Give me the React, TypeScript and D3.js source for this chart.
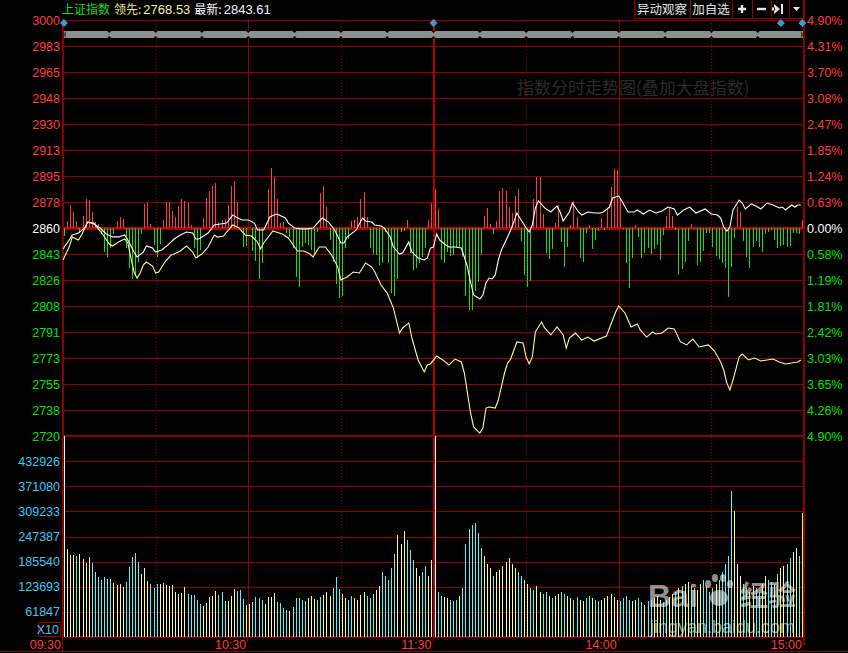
import React from "react";
import * as d3 from "d3";

// ---------------- data ----------------
const PREV_CLOSE = 2860;
const PRICE_STEP = 17.5;
const priceTicks = ["3000","2983","2965","2948","2930","2913","2895","2878","2860","2843","2826","2808","2791","2773","2755","2738","2720"];
const pctTicks = ["4.90%","4.31%","3.70%","3.08%","2.47%","1.85%","1.24%","0.63%","0.00%","0.58%","1.19%","1.81%","2.42%","3.03%","3.65%","4.26%","4.90%"];
const volTicks = ["432926","371080","309233","247387","185540","123693","61847"];
const VOL_STEP = 61.847; // thousands
const timeTickMinutes = [0, 60, 120, 180, 240];
const timeLabels = ["09:30", "10:30", "11:30", "14:00", "15:00"];

// white: index, [minute, price]
const indexLine: [number, number][] = [[0,2845.9],[2,2851.9],[3,2855.3],[5,2856.6],[7,2860.0],[8,2864.0],[10,2862.7],[12,2860.0],[14,2856.0],[16,2854.0],[18,2854.0],[20,2855.3],[21,2851.9],[23,2843.8],[24,2840.5],[26,2843.8],[27,2847.9],[29,2846.5],[30,2843.8],[32,2845.2],[34,2848.6],[36,2852.6],[38,2855.3],[40,2857.3],[42,2856.6],[43,2852.6],[44,2852.6],[47,2856.6],[49,2862.0],[51,2862.7],[53,2863.3],[55,2868.7],[56,2867.4],[58,2865.4],[60,2865.4],[62,2863.3],[63,2858.7],[65,2858.7],[67,2867.4],[69,2869.4],[70,2868.7],[72,2866.7],[73,2863.3],[75,2860.0],[77,2859.4],[79,2859.4],[81,2860.0],[83,2864.7],[84,2866.7],[86,2864.0],[88,2858.7],[90,2849.9],[91,2849.9],[92,2853.9],[95,2858.7],[97,2866.7],[98,2864.7],[100,2864.0],[101,2862.0],[103,2861.3],[104,2860.0],[106,2853.9],[107,2847.2],[109,2842.5],[110,2843.2],[112,2850.6],[113,2843.8],[115,2839.8],[117,2838.5],[118,2839.8],[119,2846.5],[120,2847.2],[121,2856.0],[122,2851.9],[124,2848.6],[125,2847.2],[127,2847.2],[129,2846.5],[130,2840.5],[131,2833.7],[132,2823.6],[133,2814.9],[135,2812.2],[136,2814.9],[137,2823.0],[138,2826.3],[139,2825.7],[140,2828.4],[141,2838.5],[142,2845.2],[144,2854.0],[145,2858.7],[146,2864.0],[147,2870.1],[148,2866.7],[150,2860.0],[151,2857.3],[152,2862.0],[153,2873.5],[154,2878.2],[156,2873.5],[158,2870.8],[160,2874.8],[161,2870.8],[162,2864.7],[164,2870.8],[165,2876.8],[167,2870.8],[168,2868.7],[170,2870.8],[172,2870.1],[174,2870.1],[175,2870.8],[177,2874.1],[178,2880.2],[180,2881.5],[181,2878.2],[183,2870.8],[185,2870.8],[186,2872.1],[188,2869.4],[190,2872.1],[192,2870.1],[194,2871.4],[196,2874.1],[198,2872.8],[199,2868.7],[201,2872.1],[203,2874.1],[205,2870.1],[208,2872.8],[210,2869.4],[212,2868.7],[213,2866.7],[214,2860.6],[215,2857.9],[216,2860.6],[217,2872.1],[219,2878.8],[220,2876.8],[221,2872.8],[223,2876.2],[225,2874.1],[226,2872.8],[228,2876.8],[230,2875.5],[232,2873.5],[233,2874.1],[234,2872.1],[236,2875.5],[237,2874.1],[238,2875.5],[239,2875.5]];

// yellow: leading index, [minute, price]
const leadLine: [number, number][] = [[0,2838.5],[2,2847.2],[3,2853.9],[5,2851.9],[6,2855.3],[8,2864.0],[10,2863.3],[11,2860.6],[13,2855.3],[15,2849.2],[16,2847.9],[18,2850.6],[20,2852.6],[21,2849.9],[22,2839.8],[23,2830.4],[24,2826.3],[25,2829.7],[26,2835.1],[27,2837.1],[29,2834.4],[30,2829.7],[31,2830.4],[33,2837.1],[35,2841.8],[36,2842.5],[38,2844.5],[40,2847.9],[42,2843.8],[43,2839.8],[45,2842.5],[47,2847.2],[49,2855.3],[50,2853.9],[52,2854.6],[53,2857.3],[55,2862.0],[57,2860.0],[59,2855.3],[61,2854.6],[63,2850.6],[64,2845.9],[65,2849.9],[68,2858.0],[69,2857.3],[71,2856.0],[73,2853.3],[75,2847.2],[76,2844.5],[78,2844.5],[80,2842.5],[81,2840.5],[83,2847.2],[85,2847.2],[87,2841.8],[89,2833.7],[90,2825.0],[92,2827.0],[94,2830.4],[96,2829.7],[98,2836.4],[100,2833.7],[101,2830.4],[103,2821.6],[105,2816.2],[107,2806.2],[109,2789.3],[110,2792.7],[112,2796.1],[113,2786.0],[115,2771.2],[117,2763.1],[118,2767.8],[119,2768.5],[121,2773.8],[123,2771.2],[125,2767.8],[127,2771.8],[129,2769.8],[130,2762.4],[131,2748.9],[132,2735.5],[133,2726.1],[135,2722.0],[136,2725.4],[137,2738.8],[138,2739.5],[140,2738.8],[141,2744.2],[143,2762.4],[144,2769.1],[145,2771.8],[147,2783.3],[149,2782.6],[150,2773.2],[151,2768.5],[152,2773.2],[153,2790.0],[155,2796.7],[156,2792.7],[158,2788.0],[160,2793.4],[162,2788.0],[163,2779.2],[164,2785.9],[166,2789.3],[168,2784.6],[170,2786.6],[172,2783.9],[176,2787.3],[177,2792.7],[179,2803.5],[180,2807.5],[182,2802.8],[184,2793.4],[186,2795.4],[187,2791.3],[189,2786.6],[191,2790.0],[192,2788.7],[194,2789.3],[196,2792.7],[198,2792.0],[200,2783.3],[202,2781.3],[204,2785.3],[206,2779.9],[209,2781.3],[211,2777.2],[213,2769.8],[214,2764.4],[215,2755.7],[216,2751.0],[217,2757.7],[219,2773.2],[220,2775.2],[222,2771.2],[224,2772.5],[226,2770.5],[228,2771.2],[230,2771.8],[232,2769.8],[234,2768.5],[236,2769.1],[238,2769.8],[239,2771.2]];

// red/green strength bars, [minute slot, value]
const breadth: [number, number][] = [[0,-8],[1,7],[2,23],[3,16],[4,7],[5,-5],[6,12],[7,29],[8,28],[9,16],[10,6],[11,4],[12,-6],[13,-24],[14,-29],[15,-20],[16,-6],[17,7],[18,11],[19,9],[20,-20],[21,-40],[22,-51],[23,-47],[24,-34],[25,-6],[26,24],[27,25],[28,4],[29,-17],[30,-29],[31,-16],[32,8],[33,26],[34,26],[35,17],[36,11],[37,22],[38,29],[39,27],[40,25],[41,3],[42,-20],[43,-30],[44,-22],[45,10],[46,30],[47,37],[48,42],[49,45],[50,6],[51,8],[52,9],[53,23],[54,42],[55,47],[56,26],[58,-19],[59,-18],[61,-23],[62,-33],[63,-51],[64,-35],[66,39],[67,60],[68,51],[69,29],[70,5],[71,6],[72,-5],[73,-9],[74,-20],[75,-49],[76,-59],[77,-19],[78,-15],[79,-17],[80,-22],[81,-27],[82,-4],[83,35],[84,42],[85,21],[86,-12],[87,-34],[88,-56],[89,-70],[90,-68],[91,-20],[92,-11],[93,7],[94,8],[95,11],[96,29],[97,36],[98,11],[99,-20],[100,-26],[101,-27],[102,-37],[103,-35],[104,-4],[105,-35],[106,-65],[107,-68],[108,-51],[109,-4],[110,-3],[111,8],[112,-25],[113,-42],[114,-40],[115,-35],[116,-29],[117,-20],[118,8],[119,25],
[120,39],[121,19],[122,-32],[123,-35],[124,-24],[125,-28],[126,-27],[127,-19],[128,-19],[129,-29],[130,-68],[131,-82],[132,-82],[133,-63],[134,-54],[135,-27],[136,12],[137,20],[138,4],[139,-6],[140,7],[141,37],[142,40],[143,37],[144,21],[145,15],[146,32],[147,39],[148,-13],[149,-47],[150,-59],[151,-53],[152,29],[153,51],[154,51],[155,14],[156,-25],[157,-31],[158,-21],[159,5],[160,23],[161,-14],[162,-39],[163,-19],[164,3],[165,27],[166,11],[167,-30],[168,-34],[169,-5],[170,3],[171,-21],[172,-12],[173,-3],[174,10],[175,-2],[176,19],[177,41],[178,59],[179,58],[180,29],[181,-1],[182,-35],[183,-60],[184,-30],[185,3],[186,-9],[187,-30],[188,-25],[189,-20],[190,-26],[191,-21],[192,-17],[193,-32],[194,-7],[195,12],[196,21],[197,12],[198,-2],[199,-47],[200,-41],[201,-34],[202,-13],[203,4],[204,-1],[205,-37],[206,-34],[207,-23],[208,-5],[209,-5],[210,-19],[211,-28],[212,-31],[213,-35],[214,-40],[215,-69],[216,-39],[217,-10],[218,21],[219,16],[220,-13],[221,-29],[222,-40],[223,-19],[224,-13],[225,-19],[226,-24],[227,-6],[228,-4],[229,-2],[230,-12],[231,-20],[232,-18],[233,-17],[234,-19],[235,-18],[236,-5],[237,-5],[238,-6],[239,8]];

// volume per minute, thousands
const volume: number[] = [494,
216,202,202,199,204,192,182,197,182,160,148,140,148,143,143,133,128,130,123,135,172,197,207,185,155,170,138,130,121,130,130,133,128,126,128,111,106,108,123,106,103,103,91,81,76,84,98,101,113,103,111,89,89,101,118,113,116,94,79,81,86,98,96,91,81,98,98,108,86,84,71,66,64,74,96,96,
92,88,96,100,94,90,98,104,110,100,120,148,118,105,95,90,100,96,92,104,110,100,95,105,115,125,160,150,140,170,205,250,230,260,240,215,190,170,150,160,175,150,190,
494,
110,100,98,95,90,88,92,100,120,230,265,275,280,255,220,
200,180,170,150,160,165,175,185,195,180,
170,160,150,140,130,120,115,125,110,105,110,100,95,100,105,
110,105,100,95,90,98,92,88,95,100,96,90,88,92,95,100,105,98,92,88,
95,100,92,88,90,95,85,80,88,92,95,100,90,85,92,98,105,110,120,125,
130,135,125,120,115,130,140,125,110,120,130,140,160,180,200,
360,310,180,150,130,120,110,125,120,110,130,150,140,135,130,155,170,175,180,195,210,220,200,305];

// W = opening, Y = up minute (yellow), C = down minute (cyan)
const volumeDir =
  "W" + "YYYCYYYYCCCCCCCYYYYCCCCCYYYCCCYYYYYYYYYCCCCCYYYYYCCCYYYCCCYYCCCCYYYYCCCCYCCC" +
  "CCYYYCCYYYCCCYYCCYYYYCCCYYCCCCCYYYCCCYYCCYY" +
  "W" +
  "CCYYCCCYCCCCCCC" + "YYYCYYYYYY" + "YCCYYCCYYCCYCYY" + "CCYYCCYYCCYCCYYYYYYC" +
  "CCCYYCCYCCYYYCCYYCYC" + "YYCCYYCCCCYCCCC" + "CYYYCCYYCCYYCCYCYYCCYYCY";

// ---------------- styles ----------------
const GRID = "#8c0000";
const GRID_STRONG = "#b00000";
const RED = "#ff3c3c";
const GREEN = "#00e000";
const CYAN = "#3ec8f0";
const FONT = "'Liberation Sans', Arial, 'Noto Sans CJK SC', sans-serif";
const CJK = "'Noto Sans CJK SC', 'Liberation Sans', sans-serif";

export default function App() {
  const L = 63, R = 804;
  const x = d3.scaleLinear().domain([0, 240]).range([L, R]);
  const yP = d3.scaleLinear().domain([PREV_CLOSE - 8 * PRICE_STEP, PREV_CLOSE + 8 * PRICE_STEP]).range([436, 20]);
  const yB = d3.scaleLinear().domain([-100, 100]).range([yP(PREV_CLOSE) + 100, yP(PREV_CLOSE) - 100]);
  const yV = d3.scaleLinear().domain([0, VOL_STEP * 8]).range([637, 436]);
  const line = d3.line<[number, number]>().x(d => x(d[0])).y(d => yP(d[1]));

  const px = (v: number) => Math.round(v) + 0.5;
  const priceVals = priceTicks.map((_, i) => PREV_CLOSE + (8 - i) * PRICE_STEP);
  const volVals = volTicks.map((_, i) => VOL_STEP * (7 - i));

  const baseY = yP(PREV_CLOSE);
  const notchXs = d3.range(1, 16).map(k => x(k * 15));

  return (
    <svg width={848} height={653} viewBox="0 0 848 653" style={{ display: "block", position: "absolute", left: 0, top: 0, background: "#000" }}>
      <rect x={0} y={0} width={848} height={653} fill="#000" />

      {/* header */}
      <text x={62} y={14} fontFamily={CJK} fontSize={12}>
        <tspan fill="#22d822">上证指数</tspan>
        <tspan dx={4} fill="#e8e890">领先:</tspan>
        <tspan dx={2} fill="#f4f4a0" fontFamily={FONT} fontSize={13}>2768.53</tspan>
        <tspan dx={4} fill="#ffffff">最新:</tspan>
        <tspan dx={2} fill="#eef4ff" fontFamily={FONT} fontSize={13}>2843.61</tspan>
      </text>

      {/* buttons */}
      <g shapeRendering="crispEdges">
        <rect x={634.5} y={-1} width={170} height={19} fill="none" stroke={GRID} />
        {[690, 732, 752, 771, 789].map(bx => (
          <line key={bx} x1={bx + 0.5} x2={bx + 0.5} y1={0} y2={18} stroke={GRID} />
        ))}
      </g>
      <text x={662} y={14} textAnchor="middle" fill="#e6e6e6" fontFamily={CJK} fontSize={12.5}>异动观察</text>
      <text x={711} y={14} textAnchor="middle" fill="#e6e6e6" fontFamily={CJK} fontSize={12.5}>加自选</text>
      <path d="M738,9h8M742,5v8" stroke="#e6e6e6" strokeWidth={2.4} />
      <path d="M757,9h9" stroke="#e6e6e6" strokeWidth={2.4} />
      <path d="M774,4l6,5l-6,5z M775,7.5h-3v3h3z" fill="#e6e6e6" />
      <rect x={781} y={4} width={2} height={10} fill="#e6e6e6" />
      <path d="M793,7h7l-3.5,4z" fill="#e6e6e6" />

      {/* dim title watermark */}
      <text x={517} y={94} fill="#2c2c2c" fontFamily={CJK} fontSize={17} letterSpacing={0}>指数分时走势图(叠加大盘指数)</text>

      {/* horizontal grid: price */}
      <g shapeRendering="crispEdges">
        {priceVals.map((v, i) => (
          <line key={"p" + i} x1={L - 1} x2={R} y1={px(yP(v))} y2={px(yP(v))} stroke={GRID} />
        ))}
        {volVals.map((v, i) => (
          <line key={"v" + i} x1={L} x2={R} y1={px(yV(v))} y2={px(yV(v))} stroke={GRID} />
        ))}
        {/* vertical grid */}
        {d3.range(0, 9).map(k => {
          const gx = px(x(k * 30));
          if (k % 2 === 1) {
            return <line key={"vg" + k} x1={gx} x2={gx} y1={20} y2={637} stroke={GRID} strokeDasharray="1,2" />;
          }
          return <line key={"vg" + k} x1={gx} x2={gx} y1={19} y2={637} stroke={GRID} />;
        })}
        {/* strong lines */}
        <rect x={Math.round(x(120)) - 1} y={19} width={2} height={618} fill={GRID_STRONG} />
        <rect x={L} y={Math.round(baseY) - 1} width={R - L} height={3} fill={GRID_STRONG} />
        <rect x={L} y={435} width={R - L} height={2} fill={GRID} />
        <rect x={L} y={636} width={R - L} height={2} fill={GRID} />
        <rect x={R - 1} y={0} width={2} height={645} fill={GRID} />
        <line x1={px(L - 1)} x2={px(L - 1)} y1={19} y2={652} stroke={GRID} />
        <line x1={0} x2={848} y1={651.5} y2={651.5} stroke={GRID} />
        {timeTickMinutes.map(m => (
          <line key={"tt" + m} x1={px(x(m)) - 1} x2={px(x(m)) - 1} y1={637} y2={642} stroke={GRID} />
        ))}
        <rect x={38.5} y={622.5} width={22} height={14} fill="none" stroke={GRID} />
      </g>

      {/* top gray scroll band */}
      <rect x={L + 1} y={31} width={R - L - 2} height={7} fill="#8a8f8f" />
      <path d={`M${L},34.5 L${L + 3},31 L${L + 3},38 Z M${R},34.5 L${R - 3},31 L${R - 3},38 Z`} fill="#000" opacity={0.5} />
      {notchXs.map((nx, i) => (
        <path key={"n" + i} d={`M${nx - 2},31 L${nx + 2},31 L${nx},33 Z M${nx - 2},38 L${nx + 2},38 L${nx},36 Z`} fill="#000" />
      ))}
      {/* diamonds */}
      {[0, 120, 232.5, 239.5].map((m, i) => {
        const cx = x(m) + (i === 0 ? 1 : 0);
        return <path key={"d" + i} d={`M${cx},19 L${cx + 4},23 L${cx},27 L${cx - 4},23 Z`} fill="#3a9cd2" />;
      })}

      {/* strength bars */}
      <g shapeRendering="crispEdges">
        {breadth.map(([m, v]) => {
          const bx = Math.floor(x(m + 0.5));
          const y0 = v >= 0 ? yB(v) : baseY;
          const h = Math.abs(yB(v) - baseY);
          return <rect key={"b" + m} x={bx} y={y0} width={1} height={h} fill={v >= 0 ? "#ff3c3c" : "#10e010"} />;
        })}
      </g>

      {/* lines */}
      <path d={line(leadLine) || ""} fill="none" stroke="#ffff88" strokeWidth={1.1} />
      <path d={line(indexLine) || ""} fill="none" stroke="#ffffff" strokeWidth={1.1} />

      {/* volume bars */}
      <g shapeRendering="crispEdges">
        {volume.map((v, i) => {
          const c = volumeDir[i] || "Y";
          const fill = c === "W" ? "#ffffff" : c === "C" ? "#54f6f6" : "#ffff80";
          const bx = Math.floor(x(i + 0.5));
          return <rect key={"v" + i} x={bx} y={yV(v)} width={1} height={637 - yV(v)} fill={fill} />;
        })}
      </g>

      {/* left axis labels */}
      {priceTicks.map((t, i) => (
        <text key={"lt" + i} x={60} y={yP(priceVals[i]) + 4.5} textAnchor="end" fontFamily={FONT} fontSize={12.5}
          fill={i < 8 ? RED : i === 8 ? "#ffffff" : GREEN}>{t}</text>
      ))}
      {pctTicks.map((t, i) => (
        <text key={"rt" + i} x={807} y={yP(priceVals[i]) + 4.5} textAnchor="start" fontFamily={FONT} fontSize={12.5}
          fill={i < 8 ? RED : i === 8 ? "#ffffff" : GREEN}>{t}</text>
      ))}
      {volTicks.map((t, i) => (
        <text key={"vt" + i} x={60} y={yV(volVals[i]) + 4.5} textAnchor="end" fontFamily={FONT} fontSize={12.5} fill={CYAN}>{t}</text>
      ))}
      <text x={59} y={634} textAnchor="end" fontFamily={FONT} fontSize={12.5} fill={CYAN}>X10</text>

      {/* time labels */}
      {timeLabels.map((t, i) => (
        <text key={"tl" + i} x={x(timeTickMinutes[i]) - 2} y={648.5} textAnchor="end" fontFamily={FONT} fontSize={12.5} fill={RED}>{t}</text>
      ))}

      {/* source watermark */}
      <g opacity={0.6}>
        <text x={648} y={607} fill="#f0f0f0" fontFamily={FONT} fontWeight="bold" fontSize={32}>Bai</text>
        <g fill="#f0f0f0">
          <ellipse cx={719} cy={598} rx={9} ry={8} />
          <ellipse cx={708} cy={584} rx={3} ry={4} />
          <ellipse cx={715} cy={578} rx={3} ry={4} />
          <ellipse cx={723} cy={578} rx={3} ry={4} />
          <ellipse cx={730} cy={584} rx={3} ry={4} />
        </g>
        <text x={740} y={606} fill="#f0f0f0" fontFamily={CJK} fontWeight="bold" fontSize={28}>经验</text>
        <text x={650} y={633} fill="#f0f0f0" fontFamily={FONT} fontSize={18}>jingyan.baidu.com</text>
      </g>
    </svg>
  );
}
